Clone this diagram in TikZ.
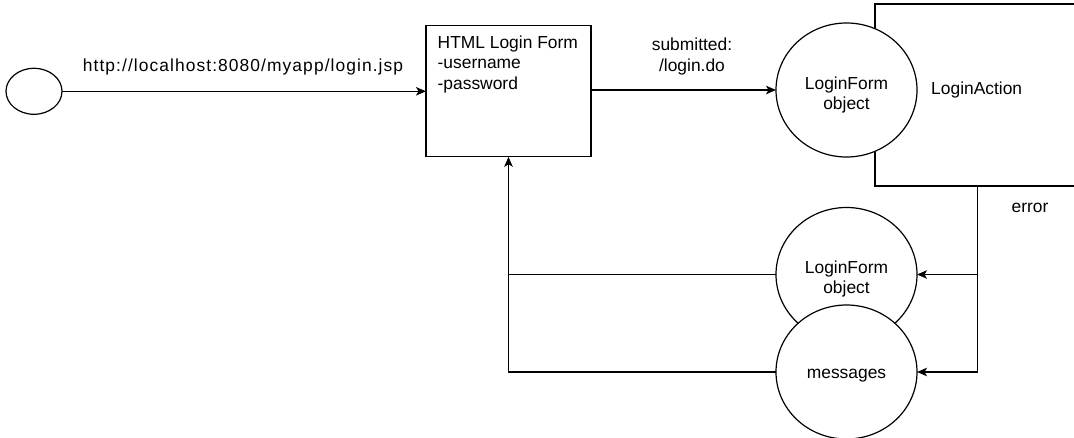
\documentclass[tikz,border=0pt]{standalone}
\usepackage{fontspec}
\setmainfont{Liberation Sans}
\usetikzlibrary{shapes.geometric,arrows.meta}
\begin{document}
\begin{tikzpicture}[x=1pt,y=-1pt,line width=1.2pt,
  every node/.style={font=\fontsize{17.4}{20.5}\selectfont,inner sep=0pt,outer sep=0pt},
  circ/.style={ellipse,draw,fill=white,minimum width=141pt,minimum height=134pt},
  boxn/.style={rectangle,draw},
  txt/.style={align=center},
  arr/.style={-{Stealth[length=10pt,width=8.5pt,inset=2.5pt]}}]
\useasboundingbox (0,0) rectangle (1074,438);
\clip (0,0) rectangle (1074,438);
% nodes
\node[ellipse,draw,minimum width=56pt,minimum height=46pt] (start) at (34,91.3) {};
\node[boxn,minimum width=165pt,minimum height=131pt] (form) at (508.5,91.3) {};
\node[anchor=north west,align=left] (formtext) at (437.7,35.6) {HTML Login Form\\-username\\-password};
\node[boxn,minimum width=205.4pt,minimum height=182pt] (action) at (977.7,95) {};
\node (actiontext) at (976.7,90.5) {LoginAction};
\node[circ] (obj1) at (846.5,90) {};
\node[txt] (obj1text) at (846.5,95) {LoginForm\\object};
\node[circ] (obj2) at (846.5,274.5) {};
\node[txt] (obj2text) at (846.5,279) {LoginForm\\object};
\node[circ] (obj3) at (846.5,372) {};
\node[txt] (obj3text) at (846.5,375.5) {messages};
% labels
\node[anchor=base] (urllabel) at (243,71.7) {\addfontfeature{LetterSpace=6.2}http://localhost:8080/myapp/login.jsp};
\node[anchor=north,align=center] (sublabel) at (692,38.3) {submitted:\\/login.do};
\node[anchor=base] (errlabel) at (1030,213) {error};
% connectors
\draw[arr] (start.east) -- (start.east -| form.west);
\draw[arr] (form.east |- obj1.west) -- (obj1.west);
\draw[arr] (action.south) |- (obj2.east);
\draw[arr] (action.south) |- (obj3.east);
\draw (obj2.west) -- (obj2.west -| form.south);
\draw[arr] (obj3.west) -| (form.south);
\end{tikzpicture}
\end{document}
